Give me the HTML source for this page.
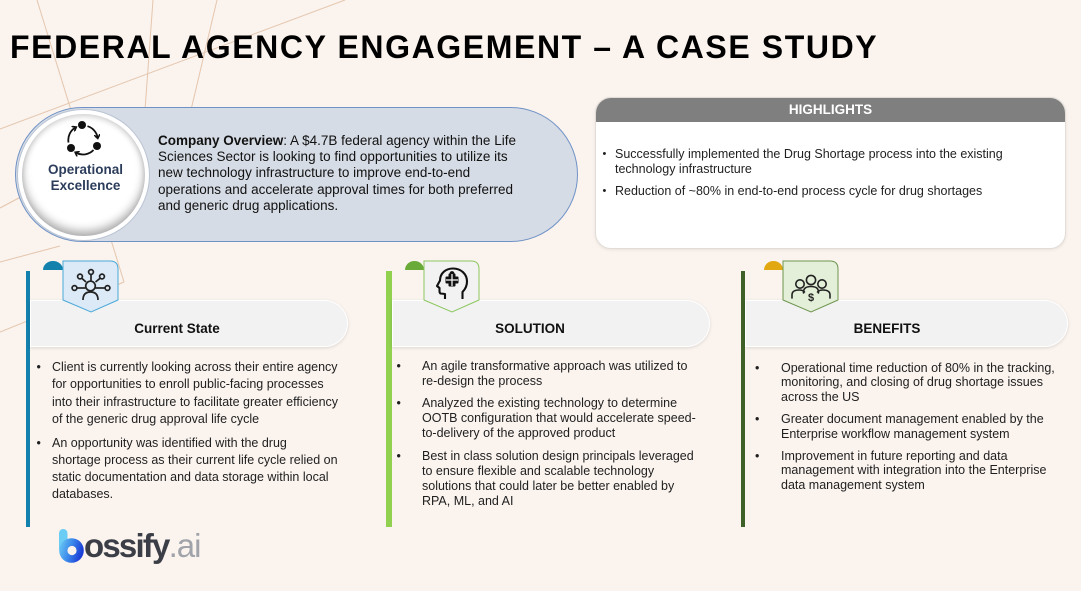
<!DOCTYPE html>
<html><head><meta charset="utf-8">
<style>
*{margin:0;padding:0;box-sizing:border-box}
html,body{width:1081px;height:591px;overflow:hidden}
body{position:relative;background:#faf3ee;font-family:"Liberation Sans",Arial,sans-serif;color:#1f1f1f}
.abs{position:absolute}
.t{position:absolute;white-space:nowrap;font-size:12.5px}
.b{position:absolute;white-space:nowrap;font-size:12.5px}
</style></head><body>

<!-- background lines -->
<svg class="abs" style="left:0;top:0" width="1081" height="591" viewBox="0 0 1081 591">
<g stroke="#e5c6ad" stroke-width="1" fill="none">
<line x1="37" y1="0" x2="124" y2="282"/>
<line x1="124" y1="282" x2="0" y2="332"/>
<line x1="153" y1="0" x2="145" y2="110"/>
<line x1="217" y1="0" x2="191" y2="110"/>
<line x1="345" y1="0" x2="0" y2="129"/>
<line x1="0" y1="208" x2="30" y2="192"/>
<line x1="0" y1="262" x2="60" y2="246"/>
</g>
</svg>

<!-- title -->
<div class="abs" style="left:10px;top:31px;font-size:32px;line-height:32px;font-weight:bold;letter-spacing:1.6px;color:#000;white-space:nowrap">FEDERAL AGENCY ENGAGEMENT – A CASE STUDY</div>

<!-- overview bubble -->
<div class="abs" style="left:15px;top:107px;width:563px;height:135px;border-radius:68px;background:#d6dce5;border:1px solid #6f92c6"></div>
<div class="abs" style="left:18px;top:110px;width:131px;height:130px;border-radius:50%;background:#fff;box-shadow:0 0 0 1px #b9c3d3"></div>
<div class="abs" style="left:22px;top:114px;width:123px;height:122px;border-radius:50%;background:#fff;box-shadow:inset 0 -5px 9px rgba(0,0,0,.32),inset 0 3px 6px rgba(0,0,0,.13)"></div>
<svg class="abs" style="left:60px;top:115px" width="50" height="50" viewBox="60 115 50 50">
<defs><marker id="ah" markerWidth="6" markerHeight="6" refX="3" refY="3" orient="auto" markerUnits="userSpaceOnUse"><path d="M0,0 L4,3 L0,6" fill="none" stroke="#111" stroke-width="1.6"/></marker></defs>
<g fill="#111"><circle cx="82" cy="125" r="4"/><circle cx="97" cy="146" r="4"/><circle cx="71" cy="148" r="4"/></g>
<g fill="none" stroke="#111" stroke-width="1.8">
<path d="M87.5,126.2 A14.5,14.5 0 0 1 97.6,137.5" marker-end="url(#ah)"/>
<path d="M93.5,150 A14.5,14.5 0 0 1 76,152.7" marker-end="url(#ah)"/>
<path d="M68.5,142.5 A14.5,14.5 0 0 1 75.5,127.5" marker-end="url(#ah)"/>
</g>
</svg>
<div class="abs" style="left:35px;top:161.5px;width:101px;text-align:center;font-size:13.5px;line-height:16.7px;font-weight:bold;color:#2c3d5b">Operational<br>Excellence</div>
<div class="abs" style="left:158px;top:132.5px;font-size:13.5px;line-height:16.4px;white-space:nowrap;color:#111"><b>Company Overview</b>: A $4.7B federal agency within the Life<br>Sciences Sector is looking to find opportunities to utilize its<br>new technology infrastructure to improve end-to-end<br>operations and accelerate approval times for both preferred<br>and generic drug applications.</div>

<!-- highlights -->
<div class="abs" style="left:595px;top:97px;width:471px;height:152px;border-radius:16px;background:#fff;border:1px solid #e2dcd7;box-shadow:0 1px 3px rgba(0,0,0,.08);overflow:hidden">
<div style="height:24px;background:#7f7f7f"></div>
</div>
<div class="abs" style="left:595px;top:102px;width:471px;text-align:center;font-size:13.5px;line-height:16px;font-weight:bold;color:#fff">HIGHLIGHTS</div>
<div class="b" style="left:602.5px;top:147px;line-height:15px;font-size:11px">•</div>
<div class="t" style="left:615px;top:147px;line-height:15px">Successfully implemented the Drug Shortage process into the existing<br>technology infrastructure</div>
<div class="b" style="left:602.5px;top:184px;line-height:15px;font-size:11px">•</div>
<div class="t" style="left:615px;top:184px;line-height:15px">Reduction of ~80% in end-to-end process cycle for drug shortages</div>

<!-- bars -->
<div class="abs" style="left:26px;top:271px;width:4px;height:256px;background:#1381ad"></div>
<div class="abs" style="left:386px;top:271px;width:6px;height:256px;background:#92d050"></div>
<div class="abs" style="left:741px;top:271px;width:4px;height:256px;background:#3f6128"></div>

<!-- header pills -->
<div class="abs" style="left:30px;top:300px;width:318px;height:47px;border-radius:0 24px 24px 0;background:#f2f2f2;border:1px solid #fff;box-shadow:0 1px 3px rgba(0,0,0,.12)"></div>
<div class="abs" style="left:392px;top:300px;width:318px;height:47px;border-radius:0 24px 24px 0;background:#f2f2f2;border:1px solid #fff;box-shadow:0 1px 3px rgba(0,0,0,.12)"></div>
<div class="abs" style="left:745px;top:300px;width:323px;height:47px;border-radius:0 24px 24px 0;background:#f2f2f2;border:1px solid #fff;box-shadow:0 1px 3px rgba(0,0,0,.12)"></div>

<div class="abs" style="left:77px;top:320.5px;width:200px;text-align:center;font-size:13.5px;line-height:16px;font-weight:bold;color:#111">Current State</div>
<div class="abs" style="left:430px;top:320.5px;width:200px;text-align:center;font-size:13.5px;line-height:16px;font-weight:bold;color:#111">SOLUTION</div>
<div class="abs" style="left:787px;top:320.5px;width:200px;text-align:center;font-size:13.5px;line-height:16px;font-weight:bold;color:#111">BENEFITS</div>

<!-- tabs and icons -->
<svg class="abs" style="left:0;top:0" width="1081" height="591" viewBox="0 0 1081 591">
<path d="M43,270 A10,9 0 0 1 63,270 Z" fill="#1282ad"/>
<path d="M63,261 L110,261 Q118,261 118,269 L118,300 L91,312 L63,300 Z" fill="#dceaf7" stroke="#4aa9da" stroke-width="1"/>
<path d="M405,270 A9.5,9 0 0 1 424,270 Z" fill="#6aaa38"/>
<path d="M424,261 L471,261 Q479,261 479,269 L479,300 L452,312 L424,300 Z" fill="#f2f2f2" stroke="#8cc760" stroke-width="1"/>
<path d="M764,270 A9.5,9 0 0 1 783,270 Z" fill="#e2a812"/>
<path d="M783,261 L830,261 Q838,261 838,269 L838,300 L811,312 L783,300 Z" fill="#e3efd9" stroke="#6f9650" stroke-width="1"/>

<!-- network person icon -->
<g fill="none" stroke="#222" stroke-width="1.7">
<circle cx="90.5" cy="286" r="4.8"/>
<path d="M83,300 Q83,292 90.5,292 Q98,292 98,300"/>
<circle cx="91" cy="272" r="2.4"/><line x1="91" y1="274.4" x2="91" y2="281"/>
<circle cx="80" cy="276.5" r="2.4"/><line x1="81.8" y1="278.2" x2="86" y2="282"/>
<circle cx="102" cy="276.5" r="2.4"/><line x1="100.2" y1="278.2" x2="95.5" y2="282"/>
<circle cx="74.5" cy="288" r="2.4"/><line x1="77" y1="288" x2="85.5" y2="288"/>
<circle cx="107.5" cy="288" r="2.4"/><line x1="105" y1="288" x2="95.5" y2="288"/>
</g>

<!-- head icon -->
<g fill="none" stroke="#111" stroke-width="2.1" stroke-linejoin="round">
<path d="M445,299 L445,294 L440.5,293.5 Q439.5,293 439.5,291 L439.5,288 L437,286 L440,280.5 C440,273 446,268.5 453,268.5 C461,268.5 467,274 467,281.5 C467,287 464.5,290 462.5,292 L462.5,299"/>
</g>
<g fill="#111">
<rect x="448.5" y="273.5" width="7" height="13" rx="1"/>
<rect x="445.5" y="276.5" width="13" height="7" rx="1"/>
<circle cx="452" cy="273.5" r="2.4"/>
</g>
<g stroke="#f2f2f2" stroke-width="1.3">
<line x1="446" y1="280" x2="458" y2="280"/>
<line x1="452" y1="274" x2="452" y2="286"/>
</g>

<!-- benefits people icon -->
<g fill="none" stroke="#222" stroke-width="1.6" stroke-linecap="round">
<circle cx="811" cy="280" r="4.6"/>
<path d="M803.5,293 Q803,286.5 811,286.5 Q819,286.5 818.5,293"/>
<circle cx="800" cy="284" r="4.2"/>
<path d="M792,298 L792,295 Q792,290 799,290 Q803,290 804.5,292"/>
<circle cx="822" cy="284" r="4.2"/>
<path d="M830,298 L830,295 Q830,290 823,290 Q819,290 817.5,292"/>
</g>
<text x="811" y="301" text-anchor="middle" font-family="Liberation Sans, Arial, sans-serif" font-size="11" font-weight="bold" fill="#222">$</text>

<!-- logo b -->
<defs><linearGradient id="lg" x1="0" y1="0" x2="1" y2="0.3"><stop offset="0" stop-color="#6fd0f5"/><stop offset="0.55" stop-color="#3a86ea"/><stop offset="1" stop-color="#1c3fd6"/></linearGradient></defs>
<rect x="59" y="529" width="8.5" height="24" rx="4.2" fill="#6ccdf4"/>
<circle cx="71.5" cy="550.5" r="12.3" fill="url(#lg)"/>
<circle cx="72" cy="550.5" r="4.6" fill="#faf3ee"/>
</svg>

<div class="abs" style="left:84px;top:528px;font-size:33px;line-height:36px;font-weight:bold;letter-spacing:-1.8px;color:#3b3e46;white-space:nowrap">ossify<span style="font-weight:normal;color:#a0a3a9;letter-spacing:-1px">.ai</span></div>

<!-- column 1 text -->
<div class="b" style="left:36.5px;top:359.2px;line-height:17.3px">•</div>
<div class="t" style="left:52px;top:359.2px;line-height:17.3px">Client is currently looking across their entire agency<br>for opportunities to enroll public-facing processes<br>into their infrastructure to facilitate greater efficiency<br>of the generic drug approval life cycle</div>
<div class="b" style="left:36.5px;top:434.6px;line-height:17.3px">•</div>
<div class="t" style="left:52px;top:434.6px;line-height:17.3px">An opportunity was identified with the drug<br>shortage process as their current life cycle relied on<br>static documentation and data storage within local<br>databases.</div>

<!-- column 2 text -->
<div class="b" style="left:396.5px;top:359.3px;line-height:15px">•</div>
<div class="t" style="left:422px;top:359.3px;line-height:15px">An agile transformative approach was utilized to<br>re-design the process</div>
<div class="b" style="left:396.5px;top:396.3px;line-height:15px">•</div>
<div class="t" style="left:422px;top:396.3px;line-height:15px">Analyzed the existing technology to determine<br>OOTB configuration that would accelerate speed-<br>to-delivery of the approved product</div>
<div class="b" style="left:396.5px;top:448.7px;line-height:15px">•</div>
<div class="t" style="left:422px;top:448.7px;line-height:15px">Best in class solution design principals leveraged<br>to ensure flexible and scalable technology<br>solutions that could later be better enabled by<br>RPA, ML, and AI</div>

<!-- column 3 text -->
<div class="b" style="left:755px;top:360.5px;line-height:14.6px">•</div>
<div class="t" style="left:781px;top:360.5px;line-height:14.6px">Operational time reduction of 80% in the tracking,<br>monitoring, and closing of drug shortage issues<br>across the US</div>
<div class="b" style="left:755px;top:412.2px;line-height:14.6px">•</div>
<div class="t" style="left:781px;top:412.2px;line-height:14.6px">Greater document management enabled by the<br>Enterprise workflow management system</div>
<div class="b" style="left:755px;top:448.9px;line-height:14.6px">•</div>
<div class="t" style="left:781px;top:448.9px;line-height:14.6px">Improvement in future reporting and data<br>management with integration into the Enterprise<br>data management system</div>

</body></html>
